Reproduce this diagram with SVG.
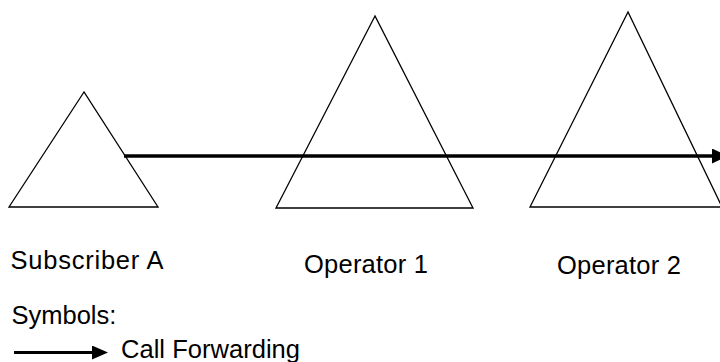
<svg xmlns="http://www.w3.org/2000/svg" width="720" height="362" viewBox="0 0 720 362">
<style>
.tri{fill:none;stroke:#000;stroke-width:1.3}
.lbl{font-family:"Liberation Sans",Arial,sans-serif;font-size:25.5px;fill:#000}
.conn{stroke:#000;stroke-width:3.4;fill:none}
</style>
<defs>
<marker id="ah" markerWidth="16" markerHeight="15" refX="0" refY="7.5" orient="auto" markerUnits="userSpaceOnUse">
<path d="M0,0 L16,7.5 L0,15 Z" fill="#000"/>
</marker>
<marker id="ah2" markerWidth="16" markerHeight="14" refX="0" refY="7" orient="auto" markerUnits="userSpaceOnUse">
<path d="M0,0 L16,7 L0,14 Z" fill="#000"/>
</marker>
</defs>
<g id="subscriber-a">
<polygon class="tri" points="84,92 9,207 158,207"/>
<text class="lbl" x="10.5" y="268.5" textLength="153" lengthAdjust="spacing">Subscriber A</text>
</g>
<g id="operator-1">
<polygon class="tri" points="375,16 276,208 473,208"/>
<text class="lbl" x="304" y="273" textLength="124" lengthAdjust="spacing">Operator 1</text>
</g>
<g id="operator-2">
<polygon class="tri" points="628,12 530,207 722,207"/>
<text class="lbl" x="557" y="274" textLength="124" lengthAdjust="spacing">Operator 2</text>
</g>
<g id="connectors">
<line class="conn" x1="124" y1="156" x2="712" y2="156" marker-end="url(#ah)"/>
</g>
<g id="legend">
<text class="lbl" x="11.5" y="324">Symbols:</text>
<line x1="14" y1="352.5" x2="92" y2="352.5" stroke="#000" stroke-width="2.8" marker-end="url(#ah2)"/>
<text class="lbl" x="121" y="358" textLength="179" lengthAdjust="spacing">Call Forwarding</text>
</g>
</svg>
